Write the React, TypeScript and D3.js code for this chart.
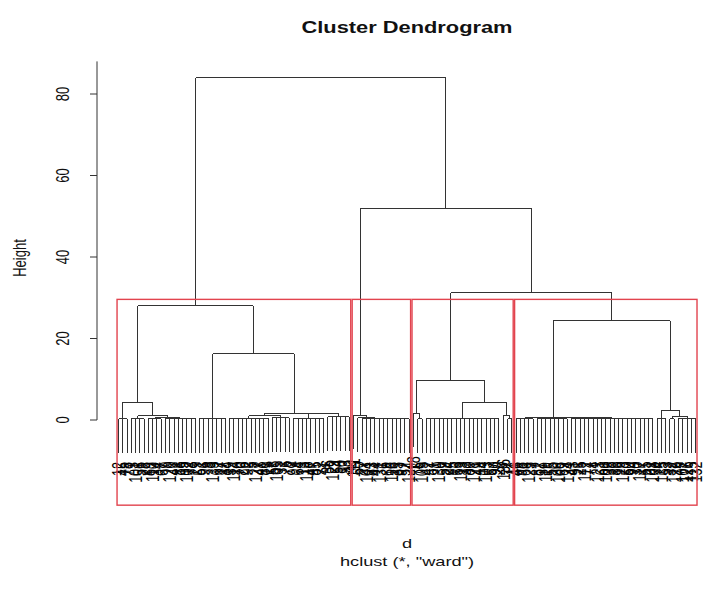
import React from "react";
import * as d3 from "d3";

type TreeNode = { h: number; n?: number; c?: TreeNode[] };

// leaf labels in dendrogram order
const leafLabels: string[] = [
  "12","45","78","3","101","56","23","89","110","34","67","9","120","41","88","15","102","73","29",
  "51","96","8","133","62","17","84",
  "39","114","70","26","92","5","127","48","81","19",
  "58","105","31","76","2",
  "99","64","13","118","47","85","22",
  "71","36","129","54","10","93","40",
  "111","60","27","104","83","44","131","6","68","116","35","97","52","124",
  "18","75","109","42","87","1","130","59","24","95","66","113","33","80","121","49","14","103","57","90","28","136","72","11",
  "46","98","63","125","7","82","37","119","55","20","106","69","134","43","91","25","112","77","4","123",
  "61","100","38","86","16","128","50","94","30","117","65","21","108","74","135","53","32","122","79","107",
  "126","115","132",
];

// merge heights (n = flat group of n leaves merged at height h)
const cluster1: TreeNode = {
  h: 28,
  c: [
    { h: 4.4, c: [
      { h: 0.3, n: 3 },
      { h: 1.0, c: [
        { h: 0.3, n: 4 },
        { h: 0.6, c: [{ h: 0.3, n: 4 }, { h: 0.4, n: 8 }] },
      ] },
    ] },
    { h: 16.2, c: [
      { h: 0.4, n: 7 },
      { h: 1.7, c: [
        { h: 1.0, c: [{ h: 0.4, n: 10 }, { h: 0.6, n: 5 }] },
        { h: 1.5, c: [{ h: 0.4, n: 8 }, { h: 0.8, n: 6 }] },
      ] },
    ] },
  ],
};

const cluster2: TreeNode = {
  h: 1.2,
  c: [
    { h: 0, n: 1 },
    { h: 0.5, c: [
      { h: 0, n: 1 },
      { h: 0.4, c: [{ h: 0, n: 1 }, { h: 0.3, n: 11 }] },
    ] },
  ],
};

const cluster3: TreeNode = {
  h: 9.8,
  c: [
    { h: 1.7, c: [{ h: 0, n: 1 }, { h: 0.3, n: 2 }] },
    { h: 4.4, c: [
      { h: 0.4, n: 18 },
      { h: 1.0, c: [{ h: 0, n: 1 }, { h: 0.3, n: 2 }] },
    ] },
  ],
};

const cluster4: TreeNode = {
  h: 24.3,
  c: [
    { h: 0.6, c: [
      { h: 0.3, n: 5 },
      { h: 0.5, c: [{ h: 0.3, n: 8 }, { h: 0.4, n: 20 }] },
    ] },
    { h: 2.3, c: [
      { h: 0.4, n: 3 },
      { h: 0.9, c: [{ h: 0.3, n: 2 }, { h: 0.4, n: 5 }] },
    ] },
  ],
};

const mergeTree: TreeNode = {
  h: 84,
  c: [cluster1, { h: 52, c: [cluster2, { h: 31.2, c: [cluster3, cluster4] }] }],
};

const yTicks = [0, 20, 40, 60, 80];
const nClusters = 4;

const W = 710, H = 604;
const SX = 1.4; // horizontal stretch of glyphs
const FONT = "'Liberation Sans', Arial, Helvetica, sans-serif";

export default function App() {
  const nLeaves = leafLabels.length;
  const x = d3.scaleLinear().domain([0, nLeaves - 1]).range([118.5, 695.6]);
  const y = d3.scaleLinear().domain([0, 80]).range([420, 94]);
  const maxH = mergeTree.h;
  const hang = 0.1 * maxH;

  const lines: { x1: number; y1: number; x2: number; y2: number }[] = [];
  const leafEnds: { i: number; yb: number }[] = [];
  let counter = 0;

  type Lay = { x: number; top: number; first: number; last: number; node: TreeNode };

  function layout(node: TreeNode, parentH: number): Lay {
    if (node.n !== undefined) {
      const first = counter;
      const last = counter + node.n - 1;
      counter += node.n;
      if (node.n === 1) {
        const yb = y(parentH - hang);
        leafEnds.push({ i: first, yb });
        return { x: x(first), top: y(parentH), first, last, node };
      }
      const yh = y(node.h);
      const yb = y(node.h - hang);
      lines.push({ x1: x(first), y1: yh, x2: x(last), y2: yh });
      for (let i = first; i <= last; i++) {
        lines.push({ x1: x(i), y1: yh, x2: x(i), y2: yb });
        leafEnds.push({ i, yb });
      }
      return { x: (x(first) + x(last)) / 2, top: yh, first, last, node };
    }
    const kids = (node.c || []).map((k) => layout(k, node.h));
    const yh = y(node.h);
    const xa = kids[0].x, xb = kids[kids.length - 1].x;
    lines.push({ x1: xa, y1: yh, x2: xb, y2: yh });
    kids.forEach((k) => {
      const bottom = k.node.n === 1 ? y(node.h - hang) : k.top;
      lines.push({ x1: k.x, y1: yh, x2: k.x, y2: bottom });
    });
    return { x: (xa + xb) / 2, top: yh, first: kids[0].first, last: kids[kids.length - 1].last, node };
  }
  layout(mergeTree, maxH);

  // rect.hclust k clusters
  const heights: number[] = [];
  (function collect(n: TreeNode) {
    if (n.c) { heights.push(n.h); n.c.forEach(collect); }
  })(mergeTree);
  heights.sort((a, b) => b - a);
  const cutH = (heights[nClusters - 2] + heights[nClusters - 1]) / 2;
  const clusters: { first: number; last: number }[] = [];
  let c2 = 0;
  const count = (m: TreeNode): number =>
    m.n !== undefined ? m.n : (m.c || []).reduce((s, k) => s + count(k), 0);
  (function cut(n: TreeNode) {
    const size = count(n);
    if (n.c && n.h > cutH) { n.c.forEach(cut); return; }
    clusters.push({ first: c2, last: c2 + size - 1 });
    c2 += size;
  })(mergeTree);
  const usrBottom = -20.9;

  const yAxisTop = y(88);

  return (
    <svg width={W} height={H} style={{ position: "absolute", left: 0, top: 0, background: "#fff" }} fontFamily={FONT}>
      <rect x={0} y={0} width={W} height={H} fill="#fff" />
      {/* title */}
      <text transform={`translate(407,33) scale(${SX},1)`} textAnchor="middle" fontSize={15.6} fontWeight="bold" fill="#111">
        Cluster Dendrogram
      </text>
      {/* y axis */}
      <line x1={97} y1={y(0)} x2={97} y2={yAxisTop} stroke="#333" strokeWidth={1} />
      {yTicks.map((t) => (
        <g key={t}>
          <line x1={90} y1={y(t)} x2={97} y2={y(t)} stroke="#333" strokeWidth={1} />
          <text transform={`translate(62,${y(t)}) scale(${SX},1) rotate(-90)`} textAnchor="middle" dy="0.36em" fontSize={13} fill="#111">
            {t}
          </text>
        </g>
      ))}
      <text transform={`translate(19,258) scale(${SX},1) rotate(-90)`} textAnchor="middle" dy="0.36em" fontSize={13} fill="#111">
        Height
      </text>
      {/* dendrogram */}
      <g stroke="#333" strokeWidth={1} shapeRendering="crispEdges">
        {lines.map((l, i) => (
          <line key={i} x1={l.x1} y1={l.y1} x2={l.x2} y2={l.y2} />
        ))}
      </g>
      {/* leaf labels */}
      {leafEnds.map((le) => (
        <text key={le.i} transform={`translate(${x(le.i)},${le.yb + 9}) scale(${SX},1) rotate(-90)`} textAnchor="end" dy="0.36em" fontSize={12.5} fill="#000">
          {leafLabels[le.i]}
        </text>
      ))}
      {/* cluster rectangles */}
      <g fill="none" stroke="#E2434E" strokeWidth={1.4}>
        {clusters.map((c, i) => (
          <rect key={i} x={x(c.first - 0.34)} y={y(cutH)} width={x(c.last + 0.33) - x(c.first - 0.34)} height={y(usrBottom) - y(cutH)} />
        ))}
      </g>
      {/* x labels */}
      <text transform={`translate(407,548) scale(${SX},1)`} textAnchor="middle" fontSize={13} fill="#111">d</text>
      <text transform={`translate(407,566) scale(${SX},1)`} textAnchor="middle" fontSize={13} fill="#111">hclust (*, "ward")</text>
    </svg>
  );
}
